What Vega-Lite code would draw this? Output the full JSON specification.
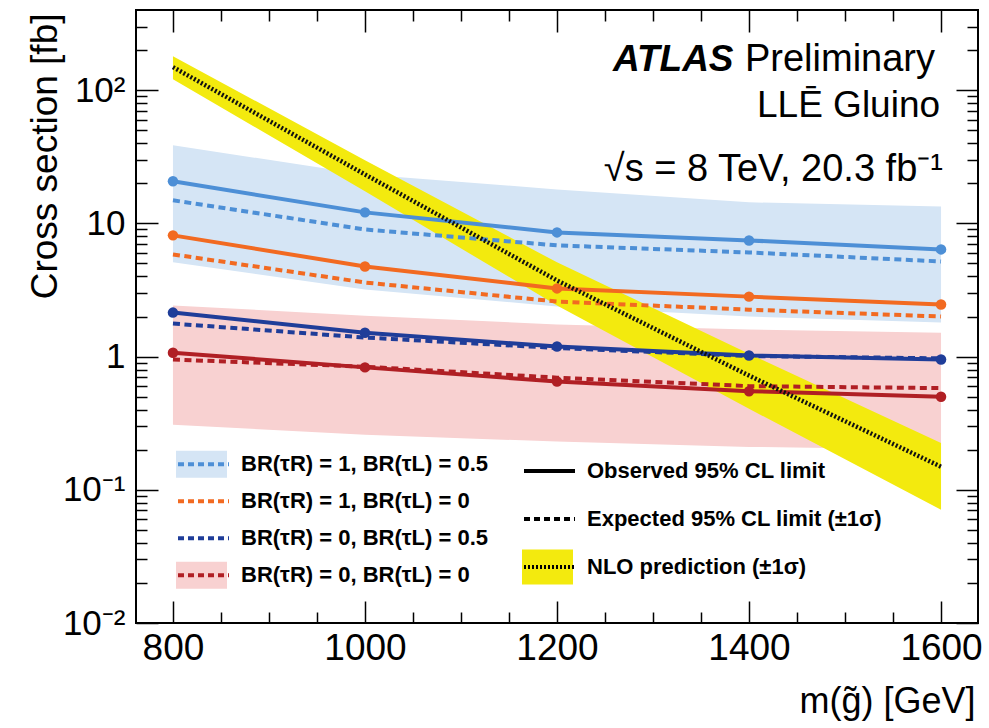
{
  "$schema": "https://vega.github.io/schema/vega-lite/v6.json",
  "width": 842,
  "height": 613,
  "autosize": {"type": "none"},
  "padding": {"left": 136, "top": 10, "right": 11, "bottom": 105},
  "background": "white",
  "config": {
    "font": "Liberation Sans",
    "view": {"stroke": "black", "strokeWidth": 2},
    "axis": {"domain": false, "grid": false, "tickColor": "black", "tickWidth": 1.5, "labelColor": "black", "titleColor": "black", "titleFontWeight": "normal", "labelFont": "Liberation Sans", "titleFont": "Liberation Sans"},
    "legend": {"padding": 0, "rowPadding": 0, "labelFont": "Liberation Sans", "labelFontWeight": "bold", "labelFontSize": 22, "labelColor": "black", "labelLimit": 500, "labelOffset": 10, "symbolOpacity": 1}
  },
  "datasets": {
    "lines": [
      {"m": 800, "scen": "BR(τR) = 1, BR(τL) = 0.5", "obs": 20.7, "exp": 14.9},
      {"m": 1000, "scen": "BR(τR) = 1, BR(τL) = 0.5", "obs": 12.1, "exp": 9.0},
      {"m": 1200, "scen": "BR(τR) = 1, BR(τL) = 0.5", "obs": 8.56, "exp": 6.84},
      {"m": 1400, "scen": "BR(τR) = 1, BR(τL) = 0.5", "obs": 7.45, "exp": 6.05},
      {"m": 1600, "scen": "BR(τR) = 1, BR(τL) = 0.5", "obs": 6.38, "exp": 5.18},
      {"m": 800, "scen": "BR(τR) = 1, BR(τL) = 0", "obs": 8.13, "exp": 5.85},
      {"m": 1000, "scen": "BR(τR) = 1, BR(τL) = 0", "obs": 4.75, "exp": 3.6},
      {"m": 1200, "scen": "BR(τR) = 1, BR(τL) = 0", "obs": 3.25, "exp": 2.59},
      {"m": 1400, "scen": "BR(τR) = 1, BR(τL) = 0", "obs": 2.82, "exp": 2.25},
      {"m": 1600, "scen": "BR(τR) = 1, BR(τL) = 0", "obs": 2.46, "exp": 2.0},
      {"m": 800, "scen": "BR(τR) = 0, BR(τL) = 0.5", "obs": 2.14, "exp": 1.77},
      {"m": 1000, "scen": "BR(τR) = 0, BR(τL) = 0.5", "obs": 1.51, "exp": 1.39},
      {"m": 1200, "scen": "BR(τR) = 0, BR(τL) = 0.5", "obs": 1.19, "exp": 1.16},
      {"m": 1400, "scen": "BR(τR) = 0, BR(τL) = 0.5", "obs": 1.02, "exp": 1.01},
      {"m": 1600, "scen": "BR(τR) = 0, BR(τL) = 0.5", "obs": 0.95, "exp": 0.97},
      {"m": 800, "scen": "BR(τR) = 0, BR(τL) = 0", "obs": 1.07, "exp": 0.95},
      {"m": 1000, "scen": "BR(τR) = 0, BR(τL) = 0", "obs": 0.83, "exp": 0.84},
      {"m": 1200, "scen": "BR(τR) = 0, BR(τL) = 0", "obs": 0.65, "exp": 0.695},
      {"m": 1400, "scen": "BR(τR) = 0, BR(τL) = 0", "obs": 0.55, "exp": 0.6},
      {"m": 1600, "scen": "BR(τR) = 0, BR(τL) = 0", "obs": 0.5, "exp": 0.58}
    ],
    "bands": [
      {"m": 800, "band": "A", "lo": 5.1, "hi": 38.6},
      {"m": 1000, "band": "A", "lo": 3.19, "hi": 23.3},
      {"m": 1200, "band": "A", "lo": 2.38, "hi": 18.0},
      {"m": 1400, "band": "A", "lo": 2.0, "hi": 14.4},
      {"m": 1600, "band": "A", "lo": 1.8, "hi": 13.4},
      {"m": 800, "band": "D", "lo": 0.308, "hi": 2.42},
      {"m": 1000, "band": "D", "lo": 0.259, "hi": 2.03},
      {"m": 1200, "band": "D", "lo": 0.23, "hi": 1.74},
      {"m": 1400, "band": "D", "lo": 0.21, "hi": 1.6},
      {"m": 1600, "band": "D", "lo": 0.2, "hi": 1.51}
    ],
    "nlo": [
      {"m": 800, "xs": 149, "lo": 121, "hi": 180, "kind": "NLO prediction (±1σ)", "key": "N"},
      {"m": 1000, "xs": 23.3, "lo": 17.4, "hi": 29.8, "kind": "NLO prediction (±1σ)", "key": "N"},
      {"m": 1200, "xs": 3.73, "lo": 2.42, "hi": 5.1, "kind": "NLO prediction (±1σ)", "key": "N"},
      {"m": 1400, "xs": 0.72, "lo": 0.406, "hi": 1.05, "kind": "NLO prediction (±1σ)", "key": "N"},
      {"m": 1600, "xs": 0.149, "lo": 0.0707, "hi": 0.225, "kind": "NLO prediction (±1σ)", "key": "N"}
    ],
    "one": [{}]
  },
  "layer": [
    {
      "data": {"name": "bands"},
      "mark": {"type": "area", "opacity": 1},
      "encoding": {
        "x": {"field": "m", "type": "quantitative", "scale": {"domain": [761.5, 1638.5], "nice": false, "zero": false},
          "axis": {"orient": "bottom", "values": [800, 1000, 1200, 1400, 1600], "format": "d", "tickSize": -22, "labelFontSize": 37, "labelPadding": 29, "labelFlush": false, "labelOverlap": false, "title": "m(g̃) [GeV]", "titleFontSize": 36, "titleAlign": "right", "titleAnchor": "end", "titleBaseline": "alphabetic", "titleX": 839, "titleY": 89}},
        "y": {"field": "lo", "type": "quantitative", "scale": {"type": "log", "domain": [0.01, 400], "nice": false},
          "axis": {"orient": "left", "values": [0.01, 0.1, 1, 10, 100], "tickSize": -22, "labelFontSize": 35, "labelPadding": 33, "labelFlush": false, "labelOverlap": false,
            "labelExpr": "datum.value >= 50 ? '10²' : datum.value >= 5 ? '10' : datum.value >= 0.5 ? '1' : datum.value >= 0.05 ? '10⁻¹' : '10⁻²'",
            "title": "Cross section [fb]", "titleFontSize": 37, "titleAngle": 270, "titleAlign": "right", "titleBaseline": "middle", "titleX": -91, "titleY": 3}},
        "y2": {"field": "hi"},
        "fill": {"field": "band", "type": "nominal", "scale": {"domain": ["A", "B", "C", "D"], "range": ["#d5e5f5", "transparent", "transparent", "#f8d1d1"]},
          "legend": {"orient": "none", "legendX": 40, "legendY": 436, "title": null, "symbolType": "M-1,-0.53H1V0.53H-1Z", "symbolSize": 2601, "symbolStrokeWidth": 0, "symbolStrokeColor": "transparent", "clipHeight": 36.3, "labelExpr": "''", "zindex": 0}}
      }
    },
    {
      "data": {"name": "nlo"},
      "mark": {"type": "area", "opacity": 1},
      "encoding": {
        "x": {"field": "m", "type": "quantitative", "scale": {"domain": [761.5, 1638.5], "nice": false, "zero": false},
          "axis": {"orient": "top", "values": [800, 1000, 1200, 1400, 1600], "tickSize": -22, "labels": false, "title": null}},
        "y": {"field": "lo", "type": "quantitative", "scale": {"type": "log", "domain": [0.01, 400], "nice": false},
          "axis": {"orient": "right", "values": [0.01, 0.1, 1, 10, 100], "tickSize": -22, "labels": false, "title": null}},
        "y2": {"field": "hi"},
        "fill": {"field": "key", "type": "nominal", "scale": {"domain": ["O", "E", "N"], "range": ["transparent", "transparent", "#f3ea0e"]},
          "legend": {"orient": "none", "legendX": 386, "legendY": 437, "title": null, "symbolType": "M-1,-0.69H1V0.69H-1Z", "symbolSize": 2601, "symbolStrokeWidth": 0, "symbolStrokeColor": "transparent", "clipHeight": 48, "labelExpr": "''", "zindex": 0}}
      }
    },
    {
      "data": {"name": "lines"},
      "mark": {"type": "line", "strokeWidth": 4, "strokeDash": [7, 4.5]},
      "encoding": {
        "x": {"field": "m", "type": "quantitative", "scale": {"domain": [761.5, 1638.5], "nice": false, "zero": false},
          "axis": {"orient": "top", "values": [850, 900, 950, 1050, 1100, 1150, 1250, 1300, 1350, 1450, 1500, 1550], "tickSize": -11, "labels": false, "title": null}},
        "y": {"field": "exp", "type": "quantitative", "scale": {"type": "log", "domain": [0.01, 400], "nice": false},
          "axis": {"orient": "right", "values": [0.02, 0.03, 0.04, 0.05, 0.06, 0.07, 0.08, 0.09, 0.2, 0.3, 0.4, 0.5, 0.6, 0.7, 0.8, 0.9, 2, 3, 4, 5, 6, 7, 8, 9, 20, 30, 40, 50, 60, 70, 80, 90, 200, 300], "tickSize": -11, "labels": false, "title": null}},
        "color": {"field": "scen", "type": "nominal",
          "scale": {"domain": ["BR(τR) = 1, BR(τL) = 0.5", "BR(τR) = 1, BR(τL) = 0", "BR(τR) = 0, BR(τL) = 0.5", "BR(τR) = 0, BR(τL) = 0"], "range": ["#4d8fd6", "#f26a21", "#1f3d99", "#b01f24"]},
          "legend": {"orient": "none", "legendX": 40, "legendY": 436, "title": null, "symbolType": "stroke", "symbolSize": 2601, "symbolStrokeWidth": 4, "symbolDash": [6, 4], "clipHeight": 36.3, "zindex": 1}}
      }
    },
    {
      "data": {"name": "lines"},
      "mark": {"type": "line", "strokeWidth": 4, "point": {"filled": true, "size": 110, "opacity": 1}},
      "encoding": {
        "x": {"field": "m", "type": "quantitative", "scale": {"domain": [761.5, 1638.5], "nice": false, "zero": false},
          "axis": {"orient": "bottom", "values": [850, 900, 950, 1050, 1100, 1150, 1250, 1300, 1350, 1450, 1500, 1550], "tickSize": -11, "labels": false, "title": null}},
        "y": {"field": "obs", "type": "quantitative", "scale": {"type": "log", "domain": [0.01, 400], "nice": false},
          "axis": {"orient": "left", "values": [0.02, 0.03, 0.04, 0.05, 0.06, 0.07, 0.08, 0.09, 0.2, 0.3, 0.4, 0.5, 0.6, 0.7, 0.8, 0.9, 2, 3, 4, 5, 6, 7, 8, 9, 20, 30, 40, 50, 60, 70, 80, 90, 200, 300], "tickSize": -11, "labels": false, "title": null}},
        "color": {"field": "scen", "type": "nominal",
          "scale": {"domain": ["BR(τR) = 1, BR(τL) = 0.5", "BR(τR) = 1, BR(τL) = 0", "BR(τR) = 0, BR(τL) = 0.5", "BR(τR) = 0, BR(τL) = 0"], "range": ["#4d8fd6", "#f26a21", "#1f3d99", "#b01f24"]},
          "legend": {"orient": "none", "legendX": 40, "legendY": 436, "title": null, "symbolType": "stroke", "symbolSize": 2601, "symbolStrokeWidth": 4, "symbolDash": [6, 4], "clipHeight": 36.3, "zindex": 1}}
      }
    },
    {
      "data": {"name": "nlo"},
      "mark": {"type": "line", "color": "#111111", "strokeWidth": 4.5},
      "encoding": {
        "x": {"field": "m", "type": "quantitative", "scale": {"domain": [761.5, 1638.5], "nice": false, "zero": false}, "axis": null},
        "y": {"field": "xs", "type": "quantitative", "scale": {"type": "log", "domain": [0.01, 400], "nice": false}, "axis": null},
        "strokeDash": {"field": "kind", "type": "nominal",
          "scale": {"domain": ["Observed 95% CL limit", "Expected 95% CL limit (±1σ)", "NLO prediction (±1σ)"], "range": [[1, 0], [6, 4], [2, 2]]},
          "legend": {"orient": "none", "legendX": 386, "legendY": 437, "title": null, "symbolType": "stroke", "symbolSize": 2601, "symbolStrokeWidth": 4, "symbolStrokeColor": "black", "clipHeight": 48, "zindex": 1}}
      }
    },
    {
      "data": {"name": "one"},
      "mark": {"type": "text", "text": "ATLAS", "font": "Liberation Sans", "fontSize": 37, "fontWeight": "bold", "fontStyle": "italic", "align": "left", "baseline": "alphabetic", "color": "black"},
      "encoding": {
        "x": {"datum": 1258.3, "type": "quantitative", "scale": {"domain": [761.5, 1638.5], "nice": false, "zero": false}, "axis": null},
        "y": {"datum": 139, "type": "quantitative", "scale": {"type": "log", "domain": [0.01, 400], "nice": false}, "axis": null}
      }
    },
    {
      "data": {"name": "one"},
      "mark": {"type": "text", "text": "Preliminary", "font": "Liberation Sans", "fontSize": 38, "align": "right", "baseline": "alphabetic", "color": "black"},
      "encoding": {
        "x": {"datum": 1593.75, "type": "quantitative", "scale": {"domain": [761.5, 1638.5], "nice": false, "zero": false}, "axis": null},
        "y": {"datum": 139, "type": "quantitative", "scale": {"type": "log", "domain": [0.01, 400], "nice": false}, "axis": null}
      }
    },
    {
      "data": {"name": "one"},
      "mark": {"type": "text", "text": "LLĒ Gluino", "font": "Liberation Sans", "fontSize": 37, "align": "right", "baseline": "alphabetic", "color": "black"},
      "encoding": {
        "x": {"datum": 1599, "type": "quantitative", "scale": {"domain": [761.5, 1638.5], "nice": false, "zero": false}, "axis": null},
        "y": {"datum": 62.7, "type": "quantitative", "scale": {"type": "log", "domain": [0.01, 400], "nice": false}, "axis": null}
      }
    },
    {
      "data": {"name": "one"},
      "mark": {"type": "text", "text": "√s = 8 TeV, 20.3 fb⁻¹", "font": "Liberation Sans", "fontSize": 38, "align": "right", "baseline": "alphabetic", "color": "black"},
      "encoding": {
        "x": {"datum": 1602, "type": "quantitative", "scale": {"domain": [761.5, 1638.5], "nice": false, "zero": false}, "axis": null},
        "y": {"datum": 20.7, "type": "quantitative", "scale": {"type": "log", "domain": [0.01, 400], "nice": false}, "axis": null}
      }
    }
  ],
  "resolve": {"scale": {"fill": "independent"}, "axis": {"x": "independent", "y": "independent"}}
}
